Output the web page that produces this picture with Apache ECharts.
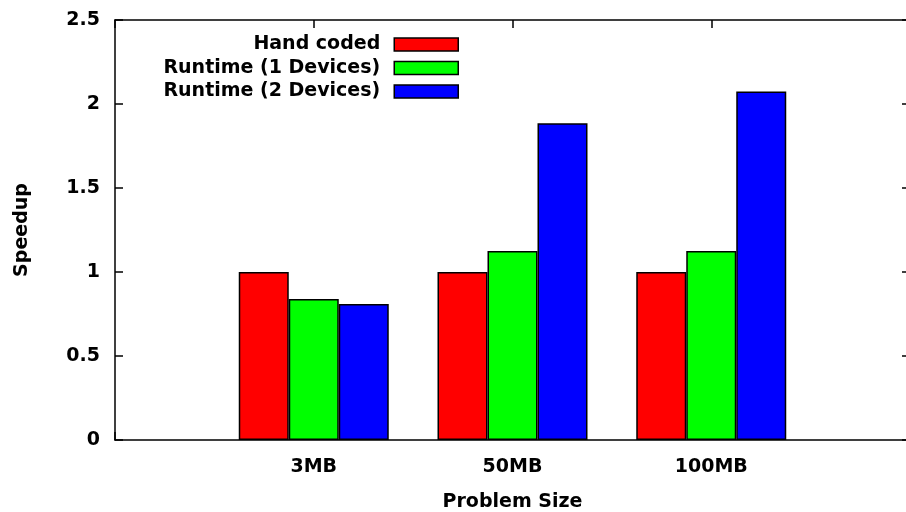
<!DOCTYPE html>
<html>
<head>
<meta charset="utf-8">
<script src="https://cdn.jsdelivr.net/npm/echarts@6/dist/echarts.min.js"></script>
<style>html,body{margin:0;padding:0;background:#fff}#c{width:906px;height:512px}</style>
</head>
<body>
<div id="c"></div>
<script>
var categories = ['3MB', '50MB', '100MB'];
var seriesNames = ['Hand coded', 'Runtime (1 Devices)', 'Runtime (2 Devices)'];
var handCoded = [1.0, 1.0, 1.0];
var runtime1 = [0.84, 1.125, 1.125];
var runtime2 = [0.81, 1.885, 2.075];
var yTicks = [0, 0.5, 1, 1.5, 2, 2.5];
var colors = ['#ff0000', '#00ff00', '#0000ff'];

var FONT = 'DejaVu Sans';
var FS = 19;
var FW = 'bold';
var chart = echarts.init(document.getElementById('c'));
function pts(arr) { return arr.map(function (v, i) { return [i, v]; }); }
var allData = [handCoded, runtime1, runtime2];
var lineSt = { color: '#000', width: 1.5 };

chart.setOption({
  animation: false,
  backgroundColor: '#fff',
  grid: { left: 115, right: -4, top: 20, bottom: 72, outerBoundsMode: 'none', containLabel: false },
  legend: {
    orient: 'vertical',
    align: 'right',
    right: 442,
    top: 30,
    itemWidth: 64,
    itemHeight: 13,
    itemGap: 4.5,
    icon: 'rect',
    itemStyle: { borderColor: '#000', borderWidth: 1.5 },
    textStyle: { fontFamily: FONT, fontSize: FS, fontWeight: FW, color: '#000', padding: [0, 9, 0, 0] },
    data: seriesNames
  },
  xAxis: [{
    type: 'value', min: -1, max: 3, interval: 1,
    name: 'Problem Size', nameLocation: 'middle', nameGap: 53,
    nameTextStyle: { fontFamily: FONT, fontSize: FS, fontWeight: FW, color: '#000' },
    axisLine: { show: true, onZero: false, lineStyle: lineSt },
    axisTick: { show: true, inside: true, length: 8, lineStyle: lineSt },
    splitLine: { show: false },
    axisLabel: { fontFamily: FONT, fontSize: FS, fontWeight: FW, color: '#000', margin: 18,
      formatter: function (v) { return categories[v] !== undefined ? categories[v] : ''; } }
  }, {
    type: 'value', position: 'top', min: -1, max: 3, interval: 1,
    axisLine: { show: true, onZero: false, lineStyle: lineSt },
    axisTick: { show: true, inside: true, length: 8, lineStyle: lineSt },
    splitLine: { show: false }, axisLabel: { show: false }
  }],
  yAxis: [{
    type: 'value', min: 0, max: 2.5, interval: 0.5,
    name: 'Speedup', nameLocation: 'middle', nameGap: 83, nameRotate: 90,
    nameTextStyle: { fontFamily: FONT, fontSize: FS, fontWeight: FW, color: '#000' },
    axisLine: { show: true, onZero: false, lineStyle: lineSt },
    axisTick: { show: true, inside: true, length: 8, lineStyle: lineSt },
    splitLine: { show: false },
    axisLabel: { fontFamily: FONT, fontSize: FS, fontWeight: FW, color: '#000', margin: 15,
      formatter: function (v) { return String(v); } }
  }, {
    type: 'value', position: 'right', min: 0, max: 2.5, interval: 0.5,
    axisLine: { show: true, onZero: false, lineStyle: lineSt },
    axisTick: { show: true, inside: true, length: 8, lineStyle: lineSt },
    splitLine: { show: false }, axisLabel: { show: false }
  }],
  series: seriesNames.map(function (n, k) {
    return {
      name: n, type: 'bar', xAxisIndex: 0, yAxisIndex: 0,
      barWidth: 50, barGap: '0%',
      itemStyle: { color: colors[k], borderColor: '#000', borderWidth: 1.5 },
      data: pts(allData[k])
    };
  })
});
</script>
</body>
</html>
